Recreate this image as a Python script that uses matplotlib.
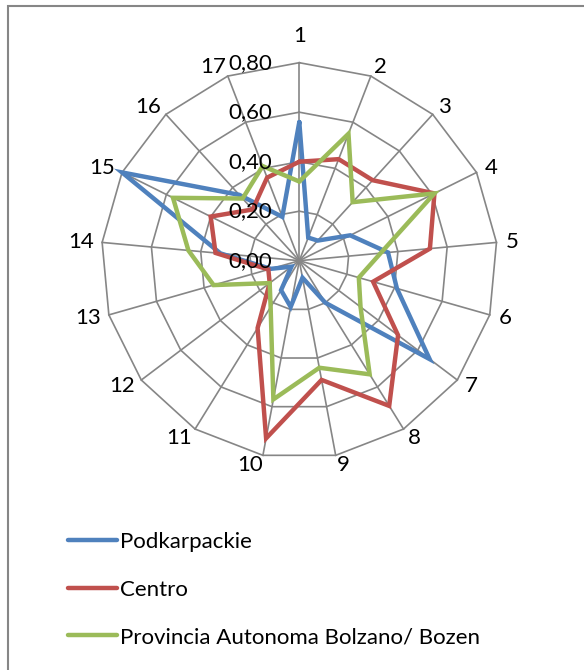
import numpy as np
import matplotlib
matplotlib.use("Agg")
import matplotlib.pyplot as plt
from matplotlib.patches import Rectangle

plt.rcParams['font.family'] = ['Lato', 'DejaVu Sans']

categories = [str(i) for i in range(1, 18)]
podkarpackie = [0.56, 0.10, 0.11, 0.23, 0.36, 0.41, 0.66, 0.20, 0.07, 0.19,
                0.14, 0.04, 0.12, 0.32, 0.80, 0.36, 0.19]
centro = [0.40, 0.44, 0.44, 0.61, 0.53, 0.31, 0.50, 0.69, 0.49, 0.73,
          0.32, 0.15, 0.13, 0.34, 0.40, 0.28, 0.36]
bolzano = [0.32, 0.55, 0.32, 0.61, 0.33, 0.25, 0.31, 0.54, 0.44, 0.57,
           0.22, 0.15, 0.36, 0.45, 0.57, 0.34, 0.41]
series_names = ["Podkarpackie", "Centro", "Provincia Autonoma Bolzano/ Bozen"]
radial_ticks = [0.0, 0.2, 0.4, 0.6, 0.8]
radial_labels = ["0,00", "0,20", "0,40", "0,60", "0,80"]

colors = ["#4F81BD", "#C0504D", "#9BBB59"]
grid_color = "#868686"

W, H = 584, 670
fig = plt.figure(figsize=(W / 100, H / 100), dpi=100)

cx, cy, R = 299.3, 260.7, 198.0
ax = fig.add_axes([(cx - R) / W, 1 - (cy + R) / H, 2 * R / W, 2 * R / H],
                  projection='polar')
ax.set_theta_zero_location('N')
ax.set_theta_direction(-1)
ax.set_ylim(0, radial_ticks[-1])
ax.grid(False)
ax.spines['polar'].set_visible(False)
ax.set_xticks([])
ax.set_yticks([])
ax.patch.set_alpha(0)

n = len(categories)
theta = np.arange(n) * 2 * np.pi / n
theta_closed = np.append(theta, theta[0])

# polygon gridlines
for r in radial_ticks[1:]:
    ax.plot(theta_closed, [r] * (n + 1), color=grid_color, lw=1.2, zorder=1,
            clip_on=False)
for t in theta:
    ax.plot([t, t], [0, radial_ticks[-1]], color=grid_color, lw=1.2, zorder=1,
            clip_on=False)

lines = []
for vals, col, name in zip([podkarpackie, centro, bolzano], colors, series_names):
    v = list(vals) + [vals[0]]
    ln, = ax.plot(theta_closed, v, color=col, lw=3.2, label=name, zorder=3,
                  solid_joinstyle='miter', solid_capstyle='round', clip_on=False)
    lines.append(ln)

# category labels
fs = 16
for t, lab in zip(theta, categories):
    s, c = np.sin(t), np.cos(t)
    hw = 5.5 * len(lab)
    ox = 10 * s + (hw * np.sign(s) if abs(s) > 1e-6 else 0)
    oy = 10 * c
    if abs(s) < 1e-6 and c > 0:
        oy += 17
    ax.annotate(lab, xy=(t, radial_ticks[-1]), xytext=(ox, oy),
                textcoords='offset pixels', ha='center', va='center',
                fontsize=fs, color='black', annotation_clip=False)

# radial value labels
for r, lab in zip(radial_ticks, radial_labels):
    ax.annotate(lab, xy=(0, r), xytext=(-27, 0), textcoords='offset pixels',
                ha='right', va='center', fontsize=fs, color='black', zorder=5,
                annotation_clip=False)

leg = fig.legend(handles=lines, loc='upper left',
                 bbox_to_anchor=(68 / W, 1 - 532 / H), frameon=False,
                 fontsize=fs, handlelength=2.2, handletextpad=0.15,
                 labelspacing=1.24, borderpad=0, borderaxespad=0)

# chart frame
fig.add_artist(Rectangle((8 / W, 1 - 690 / H), (600 - 8) / W, (690 - 6) / H,
                         transform=fig.transFigure, fill=False,
                         edgecolor=grid_color, lw=1.5, clip_on=False))

fig.savefig("out.png", dpi=100)
